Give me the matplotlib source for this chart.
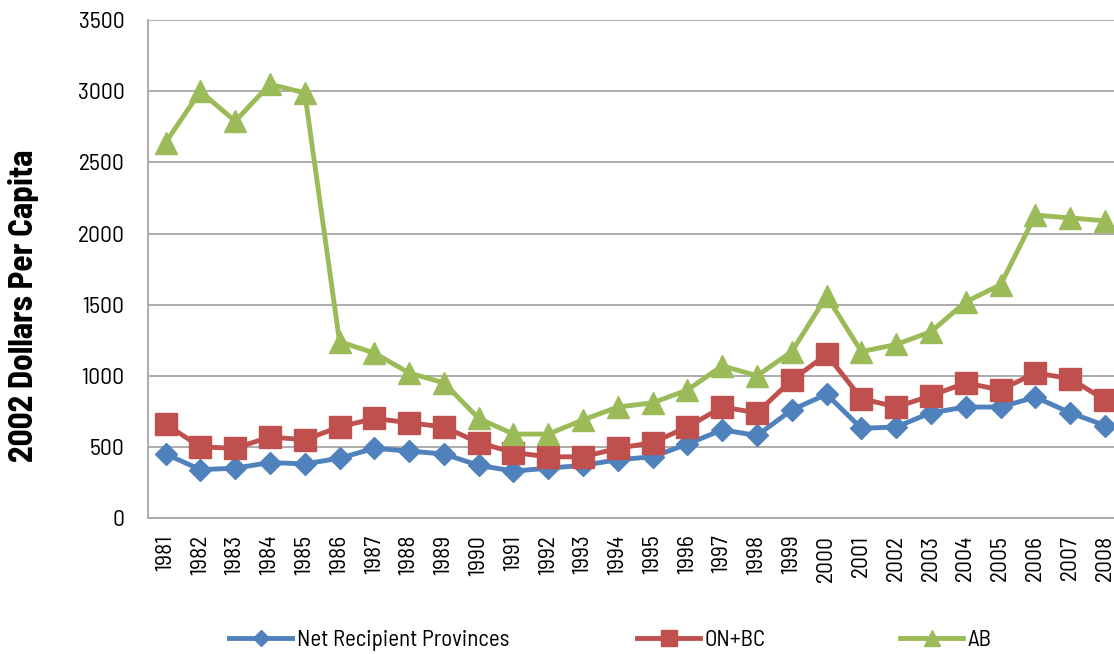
import numpy as np
import matplotlib
matplotlib.use("Agg")
import matplotlib.pyplot as plt
from matplotlib.lines import Line2D

plt.rcParams['font.family'] = ['Barlow Semi Condensed', 'Asap Condensed', 'DejaVu Sans']

years = [str(y) for y in range(1981, 2009)]
net_recipient = [450, 340, 350, 390, 380, 420, 490, 470, 450, 370, 330, 350, 370, 410,
                 430, 520, 620, 580, 760, 870, 630, 640, 740, 780, 780, 850, 740, 650]
on_bc = [660, 500, 490, 570, 550, 640, 700, 670, 640, 530, 460, 430, 430, 490,
         530, 640, 780, 740, 970, 1150, 840, 780, 860, 950, 900, 1020, 980, 830]
ab = [2640, 3000, 2790, 3050, 2990, 1240, 1160, 1020, 950, 700, 590, 590, 690, 780,
      810, 900, 1070, 1000, 1170, 1560, 1170, 1220, 1310, 1520, 1640, 2130, 2110, 2090]

blue, red, green = '#4F81BD', '#C0504D', '#9BBB59'

fig = plt.figure(figsize=(11.14, 6.54), dpi=100)
ax = fig.add_axes([0.133, 0.208, 0.867, 0.761])

x = np.arange(len(years))
ax.plot(x, net_recipient, color=blue, lw=3.5, marker='D', ms=11.5)
ax.plot(x, on_bc, color=red, lw=3.5, marker='s', ms=15.5)
ax.plot(x, ab, color=green, lw=3.5, marker='^', ms=16)

ax.set_xlim(-0.5, 27.26)
ax.set_ylim(0, 3500)
ax.set_yticks(range(0, 3501, 500))
ax.set_xticks(x)
ax.set_xticklabels(years, rotation=90, fontsize=17)
ax.tick_params(axis='y', labelsize=17, length=0, pad=17)
ax.tick_params(axis='x', length=0, pad=12)
ax.yaxis.grid(True, color='#A6A6A6', lw=1.3)
ax.set_axisbelow(True)
for s in ['top', 'right']:
    ax.spines[s].set_visible(False)
for s in ['left', 'bottom']:
    ax.spines[s].set_color('#A6A6A6')
    ax.spines[s].set_linewidth(1.3)

ax.set_ylabel('2002 Dollars Per Capita', fontsize=24, fontweight='bold')
ax.yaxis.set_label_coords(-0.113, 0.426)

# legend entries spread out like the original, with smaller markers in the handles
entries = [
    (Line2D([], [], color=blue, lw=3.5, marker='D', ms=8), 'Net Recipient Provinces', 229),
    (Line2D([], [], color=red, lw=3.5, marker='s', ms=11), 'ON+BC', 637),
    (Line2D([], [], color=green, lw=3.5, marker='^', ms=11), 'AB', 900),
]
for handle, label, xpos in entries:
    fig.legend(handles=[handle], labels=[label], loc='center left',
               bbox_to_anchor=(xpos / 1114, 1 - 640 / 654),
               frameon=False, fontsize=16.5, handlelength=2.75, handletextpad=0.2,
               borderpad=0, borderaxespad=0)

fig.savefig('out.png', dpi=100)
